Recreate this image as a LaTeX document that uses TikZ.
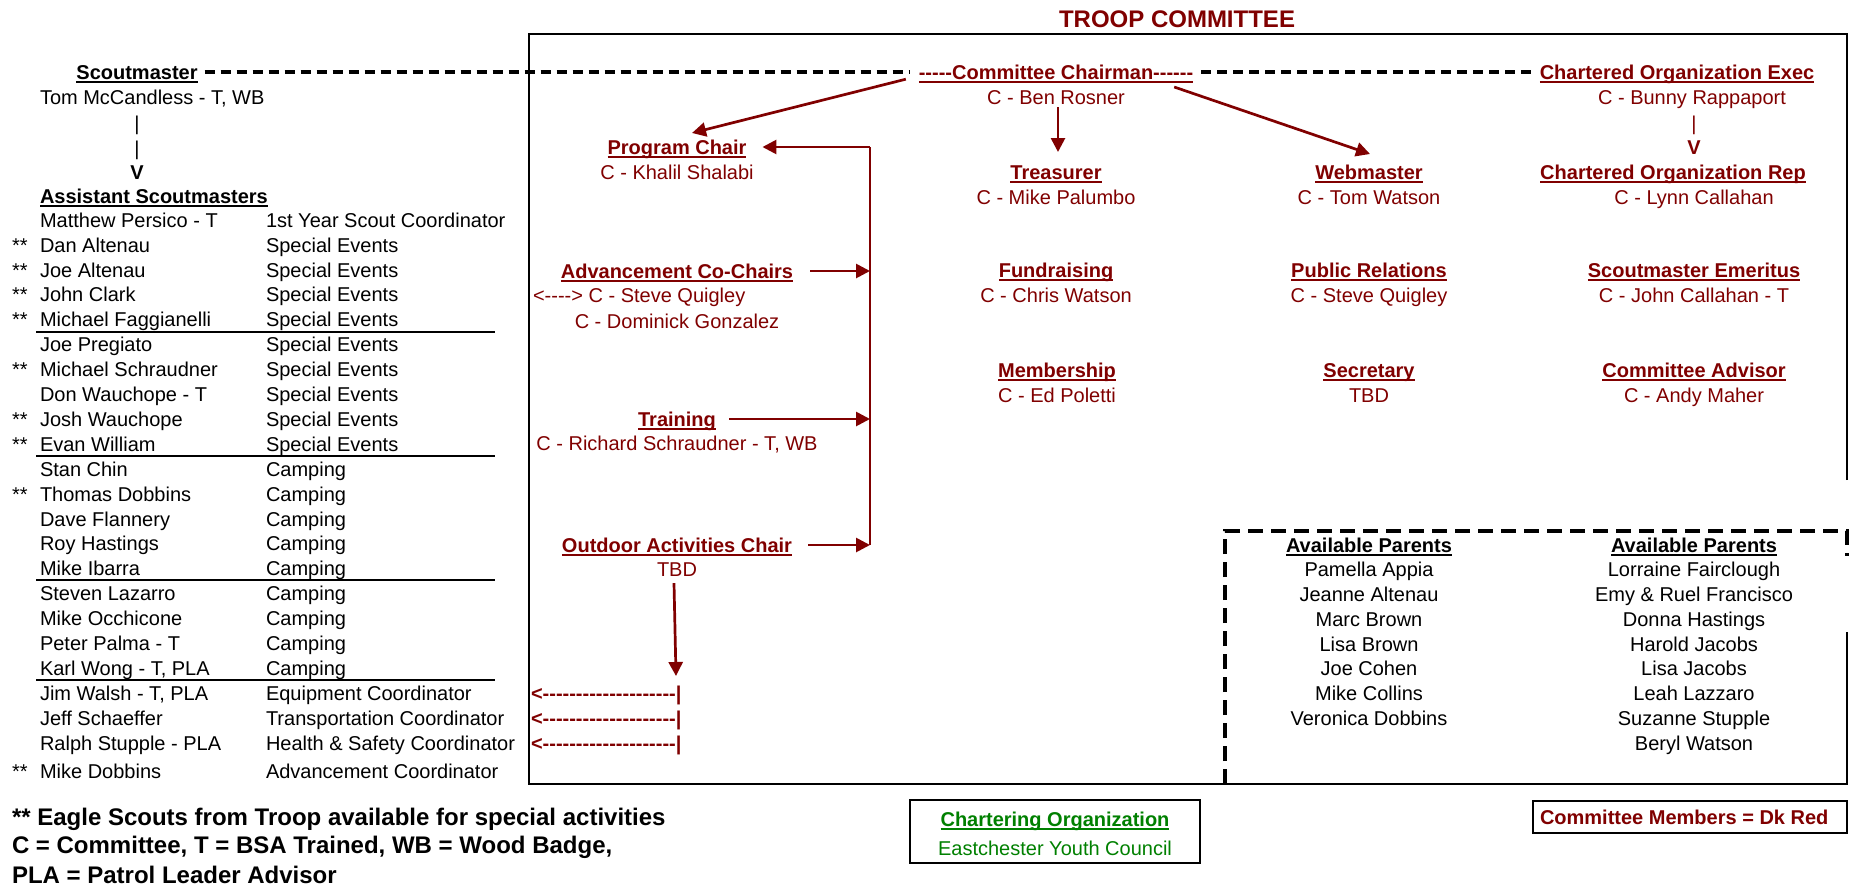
\documentclass[tikz,border=0pt]{standalone}
\usepackage{fontspec}
\setmainfont{Liberation Sans}
\usetikzlibrary{arrows.meta}
\definecolor{dkred}{HTML}{800000}
\definecolor{dkgreen}{HTML}{008000}
\newsavebox\ulbox
\newcommand\undl[1]{\sbox\ulbox{#1}\rlap{\usebox\ulbox}\rule[-2.1pt]{\wd\ulbox}{1.2pt}}
\newcommand\hy{\mbox{-}}
\newcommand\hyrun[1]{\foreach\k in {1,...,#1}{\hy}}
\begin{document}
\begin{tikzpicture}[
    x=0.5pt, y=-0.5pt,
    font=\fontsize{10}{12}\selectfont,
    txt/.style={inner sep=0pt, outer sep=0pt, text height=7.2pt, text depth=0pt},
    head/.style={txt, font=\fontsize{10}{12}\selectfont\bfseries},
    big/.style={txt, font=\fontsize{12}{14}\selectfont\bfseries, text height=8.6pt},
    mtxt/.style={txt, text=dkred},
    mhead/.style={head, text=dkred},
    rarrow/.style={draw=dkred, line width=1.35pt, -{Triangle[length=7pt,width=7pt]}},
    rline/.style={draw=dkred, line width=0.85pt},
    link/.style={draw, line width=1.6pt, dash pattern=on 5pt off 3pt},
  ]
  \useasboundingbox (0,0) rectangle (1851,889);
  \node[big, text=dkred] (title) at (1177,19) {TROOP COMMITTEE};
  \draw[line width=1.2pt] (1847,480) -- (1847,34) -- (529,34) -- (529,784) -- (1847,784) -- (1847,632);
  \draw[line width=2pt, dash pattern=on 7.5pt off 4pt] (1225,784) -- (1225,531) -- (1847,531) -- (1847,556);

  \node[head] (sm) at (137,72) {\undl{Scoutmaster}};
  \node[txt, anchor=west] (smn) at (40,97) {Tom McCandless - T, WB};
  \node[txt] (bar1) at (137,123) {|};
  \node[txt] (bar2) at (137,148) {|};
  \node[head] (smv) at (137,172) {V};
  \node[head, anchor=west] (asm) at (40,196) {\undl{Assistant Scoutmasters}};
  \foreach \nm/\job/\st [count=\i from 0] in {
      Matthew Persico - T/1st Year Scout Coordinator/,
      Dan Altenau/Special Events/**,
      Joe Altenau/Special Events/**,
      John Clark/Special Events/**,
      Michael Faggianelli/Special Events/**,
      Joe Pregiato/Special Events/,
      Michael Schraudner/Special Events/**,
      Don Wauchope - T/Special Events/,
      Josh Wauchope/Special Events/**,
      Evan William/Special Events/**,
      Stan Chin/Camping/,
      Thomas Dobbins/Camping/**,
      Dave Flannery/Camping/,
      Roy Hastings/Camping/,
      Mike Ibarra/Camping/,
      Steven Lazarro/Camping/,
      Mike Occhicone/Camping/,
      Peter Palma - T/Camping/,
      {Karl Wong - T, PLA}/Camping/,
      {Jim Walsh - T, PLA}/Equipment Coordinator/,
      Jeff Schaeffer/Transportation Coordinator/,
      Ralph Stupple - PLA/Health \& Safety Coordinator/}{
    \pgfmathsetmacro\ry{220+24.9*\i}
    \node[txt, anchor=west] (nm\i) at (40,\ry) {\nm};
    \node[txt, anchor=west] (job\i) at (266,\ry) {\job};
    \ifx\st\empty\else\node[txt, anchor=west] (st\i) at (12,\ry) {\st};\fi
  }
  \node[txt, anchor=west] (st22) at (12,771) {**};
  \node[txt, anchor=west] (nm22) at (40,771) {Mike Dobbins};
  \node[txt, anchor=west] (job22) at (266,771) {Advancement Coordinator};
  \foreach \y in {332,456,580,680} \draw[line width=1pt] (36,\y) -- (495,\y);
  \node[big, anchor=west] (note1) at (12,817) {** Eagle Scouts from Troop available for special activities};
  \node[big, anchor=west] (note2) at (12,845) {C = Committee, T = BSA Trained, WB = Wood Badge,};
  \node[big, anchor=west] (note3) at (12,875) {PLA = Patrol Leader Advisor};

  \node[mhead] (chair) at (1056,72) {\undl{\hyrun{5}Committee Chairman\hyrun{6}}};
  \node[mtxt] (chairn) at (1056,97) {C - Ben Rosner};
  \node[mhead] (exec) at (1677,72) {\undl{Chartered Organization Exec}};
  \node[mtxt] (execn) at (1692,97) {C - Bunny Rappaport};
  \node[mtxt] (execbar) at (1694,123) {|};
  \node[mhead] (execv) at (1694,147) {V};
  \node[mhead] (rep) at (1673,172) {\undl{Chartered Organization Rep}};
  \node[mtxt] (repn) at (1694,197) {C - Lynn Callahan};
  \node[mhead] (emer) at (1694,270) {\undl{Scoutmaster Emeritus}};
  \node[mtxt] (emern) at (1694,295) {C - John Callahan - T};
  \node[mhead] (advr) at (1694,370) {\undl{Committee Advisor}};
  \node[mtxt] (advrn) at (1694,395) {C - Andy Maher};
  \node[mhead] (web) at (1369,172) {\undl{Webmaster}};
  \node[mtxt] (webn) at (1369,197) {C - Tom Watson};
  \node[mhead] (pr) at (1369,270) {\undl{Public Relations}};
  \node[mtxt] (prn) at (1369,295) {C - Steve Quigley};
  \node[mhead] (sec) at (1369,370) {\undl{Secretary}};
  \node[mtxt] (secn) at (1369,395) {TBD};
  \node[mhead] (treas) at (1056,172) {\undl{Treasurer}};
  \node[mtxt] (treasn) at (1056,197) {C - Mike Palumbo};
  \node[mhead] (fund) at (1056,270) {\undl{Fundraising}};
  \node[mtxt] (fundn) at (1056,295) {C - Chris Watson};
  \node[mhead] (memb) at (1057,370) {\undl{Membership}};
  \node[mtxt] (membn) at (1057,395) {C - Ed Poletti};
  \node[mhead] (prog) at (677,147) {\undl{Program Chair}};
  \node[mtxt] (progn) at (677,172) {C - Khalil Shalabi};
  \node[mhead] (adv) at (677,271) {\undl{Advancement Co-Chairs}};
  \node[mtxt, anchor=west] (advn1) at (533,295) {<\hyrun{4}> C - Steve Quigley};
  \node[mtxt] (advn2) at (677,321) {C - Dominick Gonzalez};
  \node[mhead] (train) at (677,419) {\undl{Training}};
  \node[mtxt] (trainn) at (677,443) {C - Richard Schraudner - T, WB};
  \node[mhead] (outd) at (677,545) {\undl{Outdoor Activities Chair}};
  \node[mtxt] (outdn) at (677,569) {TBD};
  \foreach \y [count=\j] in {693,718,743}
    \node[mhead, anchor=west] (back\j) at (531,\y) {<\hyrun{20}|};

  \draw[link, shorten <=3.5pt, shorten >=5pt] (sm) -- (chair);
  \draw[link, shorten <=4pt, shorten >=2.5pt] (chair) -- (exec);
  \draw[rarrow] ([xshift=-6.5pt]chair.south west) -- ([xshift=7.5pt,yshift=3.4pt]prog.north);
  \draw[rarrow] ([xshift=1pt,yshift=-1.5pt]chairn.south) -- ([xshift=1pt,yshift=6.4pt]treas.north);
  \draw[rarrow] ([xshift=-9.5pt,yshift=-3.9pt]chair.south east) -- ([xshift=0.5pt,yshift=5.4pt]web.north);
  \coordinate (bus1) at (870,147);
  \coordinate (bus2) at (870,271);
  \coordinate (bus3) at (870,419);
  \coordinate (bus4) at (870,545);
  \coordinate (outend) at (676,676);
  \draw[rline] (bus1) -- (bus4);
  \draw[rarrow] (bus1) -- ([xshift=8pt]prog.east);
  \draw[rarrow] ([xshift=8.5pt]adv.east) -- (bus2);
  \draw[rarrow] ([xshift=6.75pt]train.east) -- (bus3);
  \draw[rarrow] ([xshift=8pt]outd.east) -- (bus4);
  \draw[rarrow] ([xshift=-1.5pt,yshift=-3.5pt]outdn.south) -- (outend);

  \node[head] (par1) at (1369,545) {\undl{Available Parents}};
  \foreach \nm [count=\i] in {Pamella Appia, Jeanne Altenau, Marc Brown, Lisa Brown, Joe Cohen, Mike Collins, Veronica Dobbins}
    \node[txt] (pa\i) at (1369,{545+24.75*\i}) {\nm};
  \node[head] (par2) at (1694,545) {\undl{Available Parents}};
  \foreach \nm [count=\i] in {Lorraine Fairclough, Emy \& Ruel Francisco, Donna Hastings, Harold Jacobs, Lisa Jacobs, Leah Lazzaro, Suzanne Stupple, Beryl Watson}
    \node[txt] (pb\i) at (1694,{545+24.75*\i}) {\nm};

  \node[draw, line width=1.3pt, minimum width=145pt, minimum height=31.5pt, inner sep=0pt] (chbox) at (1055,831.5) {};
  \node[head, text=dkgreen] (chorg) at (1055,819) {\undl{Chartering Organization}};
  \node[txt, text=dkgreen] (chname) at (1055,848) {Eastchester Youth Council};
  \node[draw, line width=1.3pt, minimum width=157pt, minimum height=16pt, inner sep=0pt] (key) at (1690,817) {};
  \node[mhead, anchor=west] (keytxt) at (1540,817) {Committee Members = Dk Red};
\end{tikzpicture}
\end{document}
